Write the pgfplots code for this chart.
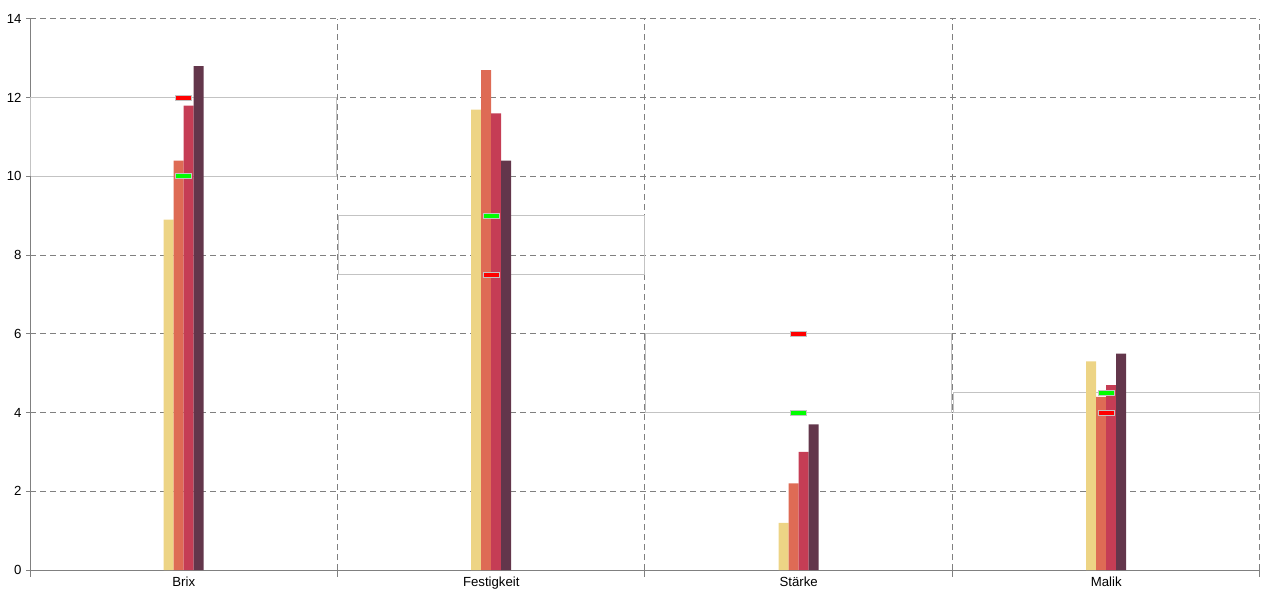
\documentclass[border=0pt]{standalone}
\usepackage{pgfplots}
\pgfplotsset{compat=1.18}
\usepackage{fontspec}
\setmainfont{Liberation Sans}
\definecolor{cY}{RGB}{237,212,133}
\definecolor{cO}{RGB}{222,107,85}
\definecolor{cR}{RGB}{197,61,85}
\definecolor{cD}{RGB}{99,54,75}
\definecolor{gridgray}{RGB}{128,128,128}
\definecolor{boxgray}{RGB}{195,195,195}
\pgfdeclareplotmark{hbar}{\pgfpathrectangle{\pgfpoint{-8pt}{-2.5pt}}{\pgfpoint{16pt}{5pt}}\pgfusepathqfillstroke}
\begin{document}
\begin{tikzpicture}
\useasboundingbox (-30pt,-30pt) rectangle (1250pt,570pt);
\begin{axis}[
  at={(0,0)}, anchor=south west,
  scale only axis, width=1230pt, height=551pt,
  xmin=0, xmax=4, ymin=0, ymax=14,
  axis x line*=bottom, axis y line*=left,
  axis line style={gridgray, line width=1pt, -},
  xtick={0,1,2,3,4}, xticklabels={},
  extra x ticks={0.5,1.5,2.5,3.5},
  extra x tick labels={Brix,Festigkeit,St\"arke,Malik},
  extra x tick style={major tick length=0pt, grid=none, xticklabel style={yshift=-3pt}},
  ytick=\empty,
  extra y ticks={0,2,...,14},
  extra y tick style={major tick length=4pt, grid=major, yticklabel style={xshift=-1pt}},
  tick align=outside,
  major tick length=7pt,
  tick style={gridgray, line width=1pt},
  xmajorgrids, ymajorgrids,
  major grid style={gridgray, line width=1pt, dash pattern=on 6pt off 4pt},
  tick label style={font=\fontsize{13.2}{15}\selectfont, text=black},
  /pgf/number format/assume math mode=true,
  clip=false,
]
% boxes from green target to red target
\addplot[boxgray, line width=1pt] coordinates {(0.003,10)(0.997,10)(0.997,12)(0.003,12)(0.003,10)};
\addplot[boxgray, line width=1pt] coordinates {(1.003,9)(1.997,9)(1.997,7.5)(1.003,7.5)(1.003,9)};
\addplot[boxgray, line width=1pt] coordinates {(2.003,4)(2.997,4)(2.997,6)(2.003,6)(2.003,4)};
\addplot[boxgray, line width=1pt] coordinates {(3.003,4.5)(3.997,4.5)(3.997,4)(3.003,4)(3.003,4.5)};
% bars
\addplot[ybar, bar width=10pt, bar shift=-15pt, fill=cY, draw=none] coordinates {(0.5,8.9)(1.5,11.7)(2.5,1.2)(3.5,5.3)};
\addplot[ybar, bar width=10pt, bar shift=-5pt, fill=cO, draw=none] coordinates {(0.5,10.4)(1.5,12.7)(2.5,2.2)(3.5,4.4)};
\addplot[ybar, bar width=10pt, bar shift=5pt, fill=cR, draw=none] coordinates {(0.5,11.8)(1.5,11.6)(2.5,3.0)(3.5,4.7)};
\addplot[ybar, bar width=10pt, bar shift=15pt, fill=cD, draw=none] coordinates {(0.5,12.8)(1.5,10.4)(2.5,3.7)(3.5,5.5)};
% target markers
\addplot[only marks, mark=hbar, mark options={fill={rgb,255:red,0;green,255;blue,0}, draw=boxgray, line width=1pt}] coordinates {(0.5,10)(1.5,9)(2.5,4)(3.5,4.5)};
\addplot[only marks, mark=hbar, mark options={fill={rgb,255:red,255;green,0;blue,0}, draw=boxgray, line width=1pt}] coordinates {(0.5,12)(1.5,7.5)(2.5,6)(3.5,4)};
\end{axis}
\end{tikzpicture}
\end{document}
